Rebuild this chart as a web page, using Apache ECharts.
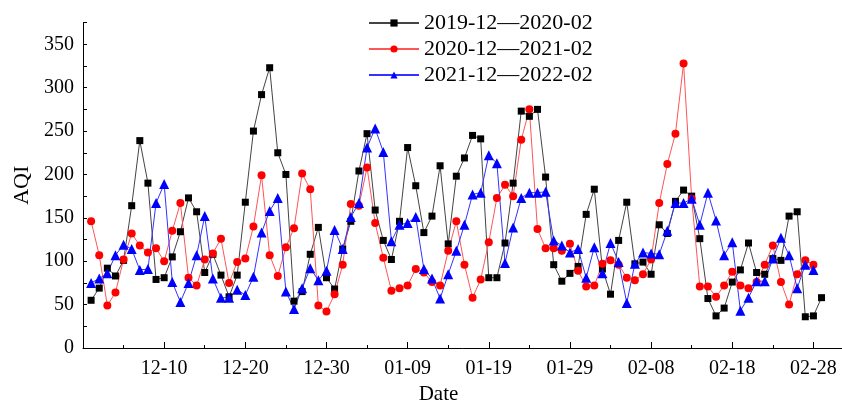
<!DOCTYPE html>
<html>
<head>
<meta charset="utf-8">
<script src="https://cdn.jsdelivr.net/npm/echarts@6/dist/echarts.min.js"></script>
<style>
  html, body { margin: 0; padding: 0; background: #fff; }
  #aqi { width: 842px; height: 401px; }
</style>
</head>
<body>
<div id="aqi"></div>
<script>
// days counted from 12-01 = 1 (x axis value)
const tickDays = [10, 20, 30, 40, 50, 60, 70, 80, 90];
const tickLabels = ['12-10', '12-20', '12-30', '01-09', '01-19', '01-29', '02-08', '02-18', '02-28'];

const seriesNames = ['2019-12—2020-02', '2020-12—2021-02', '2021-12—2022-02'];

// 2019-12-01 .. 2020-02-29
const aqi2019 = [
  55, 69, 92, 83, 101, 164, 239, 190, 79, 81,
  105, 134, 173, 157, 87, 108, 84, 59, 84, 168,
  250, 292, 323, 225, 200, 54, 65, 108, 139, 81,
  68, 114, 146, 204, 247, 159, 124, 102, 146, 231,
  187, 133, 152, 210, 120, 198, 219, 245, 241, 81,
  81, 121, 190, 273, 267, 275, 197, 96, 77, 86,
  94, 154, 183, 91, 62, 124, 168, 97, 99, 85,
  142, 132, 169, 182, 175, 126, 57, 37, 46, 76,
  90, 121, 87, 85, 103, 101, 152, 157, 36, 37,
  58
];
// 2020-12-01 .. 2021-02-28
const aqi2020 = [
  146, 107, 49, 64, 102, 132, 118, 110, 115, 100,
  135, 167, 81, 72, 102, 109, 126, 75, 99, 103,
  140, 199, 107, 83, 116, 138, 201, 183, 49, 42,
  62, 96, 166, 164, 208, 144, 104, 66, 69, 72,
  91, 87, 76, 72, 112, 146, 96, 58, 79, 122,
  173, 188, 175, 240, 275, 137, 115, 115, 112, 120,
  89, 71, 72, 97, 101, 96, 81, 78, 85, 102,
  167, 212, 247, 328, 172, 71, 71, 59, 72, 88,
  72, 69, 76, 96, 118, 76, 50, 85, 101, 96
];
// 2021-12-01 .. 2022-02-28
const aqi2021 = [
  75, 80, 86, 107, 119, 114, 90, 91, 167, 189,
  76, 53, 75, 107, 152, 80, 58, 58, 67, 61,
  82, 133, 158, 173, 65, 45, 69, 92, 78, 89,
  136, 114, 151, 167, 231, 253, 226, 123, 142, 144,
  151, 91, 80, 57, 85, 112, 142, 177, 179, 222,
  213, 98, 139, 173, 179, 179, 180, 124, 118, 110,
  114, 81, 116, 86, 121, 99, 52, 97, 110, 109,
  108, 135, 167, 167, 172, 142, 179, 147, 107, 122,
  43, 58, 77, 77, 103, 127, 107, 69, 96, 90
];

const font = 'Liberation Serif';
const toPoints = arr => arr.map((v, i) => [i + 1, v]);

const chart = echarts.init(document.getElementById('aqi'));
chart.setOption({
  animation: false,
  backgroundColor: '#fff',
  textStyle: { fontFamily: font, color: '#000' },
  grid: { left: 83, right: -12, top: 22.6, bottom: 53, containLabel: false, outerBoundsMode: 'none' },
  legend: {
    orient: 'vertical',
    left: 363,
    top: 7,
    itemWidth: 50,
    itemHeight: 9,
    itemGap: 4,
    textStyle: { fontFamily: font, fontSize: 22, lineHeight: 22, color: '#000' },
    data: seriesNames
  },
  xAxis: {
    type: 'value',
    min: 0,
    max: 95,
    interval: 10,
    name: 'Date',
    nameLocation: 'middle',
    nameGap: 35,
    nameTextStyle: { fontFamily: font, fontSize: 21, color: '#000', padding: [0, 60, 0, 0] },
    axisLine: { lineStyle: { color: '#000', width: 1 } },
    axisTick: { inside: true, length: 6, lineStyle: { color: '#000' } },
    minorTick: { show: true, splitNumber: 2, length: 3, lineStyle: { color: '#000' } },
    splitLine: { show: false },
    axisLabel: {
      fontFamily: font, fontSize: 20, color: '#000', margin: 11,
      formatter: v => {
        const k = tickDays.indexOf(v);
        return k >= 0 ? tickLabels[k] : '';
      }
    }
  },
  yAxis: {
    type: 'value',
    min: 0,
    max: 375,
    interval: 25,
    name: 'AQI',
    nameLocation: 'middle',
    nameGap: 45,
    nameTextStyle: { fontFamily: font, fontSize: 22, color: '#000' },
    axisLine: { show: true, lineStyle: { color: '#000', width: 1 } },
    axisTick: { inside: true, length: 4, lineStyle: { color: '#000' } },
    splitLine: { show: false },
    axisLabel: {
      fontFamily: font, fontSize: 20, color: '#000', margin: 9,
      formatter: v => (v % 50 === 0 && v <= 350 ? String(v) : '')
    }
  },
  series: [
    {
      name: seriesNames[0],
      type: 'line',
      data: toPoints(aqi2019),
      symbol: 'rect',
      symbolSize: 7,
      itemStyle: { color: '#000' },
      lineStyle: { color: '#444', width: 1 }
    },
    {
      name: seriesNames[1],
      type: 'line',
      data: toPoints(aqi2020),
      symbol: 'circle',
      symbolSize: 8,
      itemStyle: { color: '#ff0000' },
      lineStyle: { color: '#ff5555', width: 1 }
    },
    {
      name: seriesNames[2],
      type: 'line',
      data: toPoints(aqi2021),
      symbol: 'triangle',
      symbolSize: 10,
      itemStyle: { color: '#0000ff' },
      lineStyle: { color: '#3333ff', width: 1 }
    }
  ]
});
</script>
</body>
</html>
